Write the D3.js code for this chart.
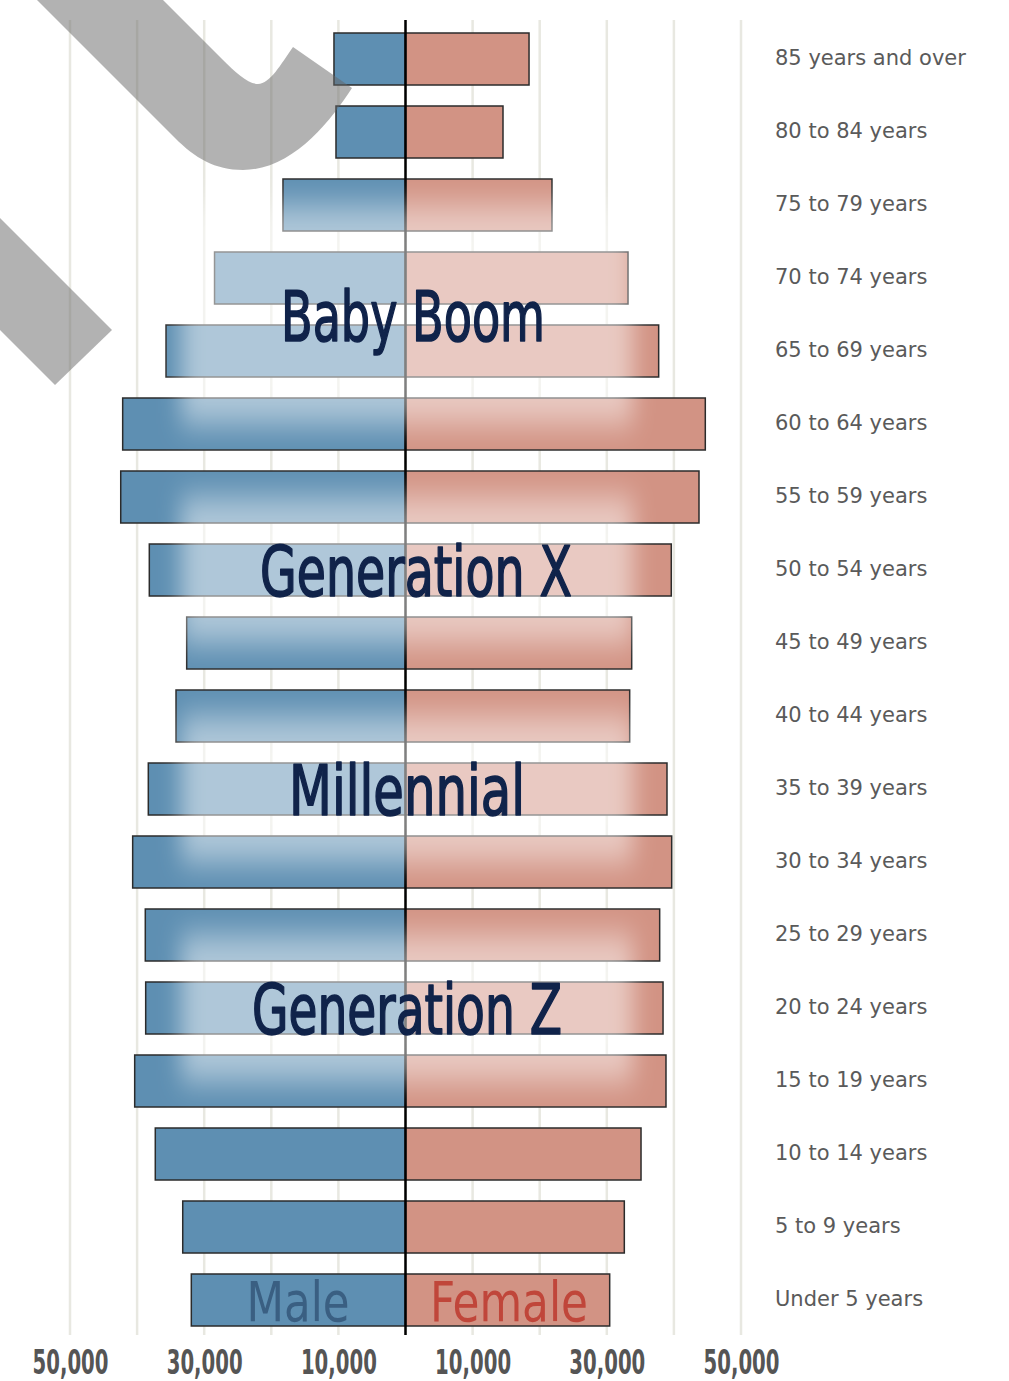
<!DOCTYPE html>
<html>
<head>
<meta charset="utf-8">
<script src="https://cdn.jsdelivr.net/npm/d3@7"></script>
<style>
  html, body { margin: 0; padding: 0; background: #ffffff; }
  svg { display: block; }
</style>
</head>
<body>
<svg id="chart" width="1009" height="1381"></svg>
<script>
const ageGroups = ["85 years and over","80 to 84 years","75 to 79 years","70 to 74 years","65 to 69 years","60 to 64 years","55 to 59 years","50 to 54 years","45 to 49 years","40 to 44 years","35 to 39 years","30 to 34 years","25 to 29 years","20 to 24 years","15 to 19 years","10 to 14 years","5 to 9 years","Under 5 years"];
const maleValues = [10660, 10360, 18260, 28460, 35690, 42150, 42440, 38180, 32610, 34200, 38330, 40660, 38780, 38720, 40360, 37290, 33200, 31920];
const femaleValues = [18410, 14530, 21830, 33160, 37730, 44680, 43740, 39610, 33710, 33410, 38970, 39670, 37880, 38380, 38820, 35100, 32610, 30430];
const generationNames = ["Baby Boom", "Generation X", "Millennial", "Generation Z"];
const generationFirstGroup = ["75 to 79 years", "55 to 59 years", "40 to 44 years", "25 to 29 years"];
const generationLastGroup = ["60 to 64 years", "45 to 49 years", "30 to 34 years", "15 to 19 years"];
const gridValues = [-50000,-40000,-30000,-20000,-10000,0,10000,20000,30000,40000,50000];
const tickValues = [-50000,-30000,-10000,10000,30000,50000];
const sexLabels = ["Male", "Female"];

const svg = d3.select("#chart");

const x = d3.scaleLinear().domain([-50000, 50000]).range([70, 741]);
const y = d3.scaleBand().domain(ageGroups).range([22.5, 1336.5])
  .paddingInner(21/73).paddingOuter(10.5/73);
const rowC = g => y(g) + y.bandwidth()/2;

const blue = "#5e8fb2", pink = "#d29384";

// defs: blur filter
const defs = svg.append("defs");
const f = defs.append("filter").attr("id","soft")
  .attr("x","-25%").attr("y","-60%").attr("width","150%").attr("height","220%");
f.append("feGaussianBlur").attr("stdDeviation", "11 16");

// gridlines
svg.append("g").selectAll("line").data(gridValues).join("line")
  .attr("x1", d => x(d)).attr("x2", d => x(d))
  .attr("y1", 20).attr("y2", 1335)
  .attr("stroke", "#e8e8e1").attr("stroke-width", 2.5);

// bars
const bars = svg.append("g");
bars.selectAll("rect.m").data(ageGroups).join("rect").attr("class","m")
  .attr("x", (d,i) => x(-maleValues[i]))
  .attr("y", d => y(d))
  .attr("width", (d,i) => x(0) - x(-maleValues[i]))
  .attr("height", y.bandwidth())
  .attr("fill", blue).attr("stroke", "#2b2b2b").attr("stroke-width", 1.5);
bars.selectAll("rect.f").data(ageGroups).join("rect").attr("class","f")
  .attr("x", x(0))
  .attr("y", d => y(d))
  .attr("width", (d,i) => x(femaleValues[i]) - x(0))
  .attr("height", y.bandwidth())
  .attr("fill", pink).attr("stroke", "#2b2b2b").attr("stroke-width", 1.5);

// center axis line
svg.append("line").attr("x1", x(0)).attr("x2", x(0)).attr("y1", 20).attr("y2", 1335)
  .attr("stroke", "#000").attr("stroke-width", 2.5);

// generation highlight overlays
const genCx = 407, genHalf = 226;
svg.append("g").selectAll("rect").data(generationNames).join("rect")
  .attr("x", genCx - genHalf).attr("width", genHalf*2)
  .attr("y", (d,i) => rowC(generationFirstGroup[i]))
  .attr("height", (d,i) => rowC(generationLastGroup[i]) - rowC(generationFirstGroup[i]))
  .attr("fill", "#fff").attr("fill-opacity", 0.5)
  .attr("filter", "url(#soft)");

// gray decoration (partial logo)
const deco = svg.append("g").attr("fill", "#666").attr("fill-opacity", 0.5);
deco.append("path").attr("d",
  "M37,0 L163,0 L222,59 C236,73 248,84 258,84 C270,84 281,64 293,47 L352,88 C330,122 292,170 243,170 C215,170 195,158 175,138 Z");
deco.append("path").attr("d", "M0,218 L112,330 L55,385 L0,330 Z");

// generation labels
const genFont = "'DejaVu Sans Condensed', 'Liberation Sans Narrow', sans-serif";
const genWidths = [264, 312, 236, 310];
const genX = [413, 416, 407, 407];
svg.append("g").selectAll("text").data(generationNames).join("text")
  .attr("x", (d,i) => genX[i])
  .attr("y", (d,i) => (rowC(generationFirstGroup[i]) + rowC(generationLastGroup[i]))/2 + 26)
  .attr("text-anchor", "middle")
  .attr("font-family", genFont).attr("font-weight", "normal")
  .attr("font-size", 70)
  .attr("textLength", (d,i) => genWidths[i]).attr("lengthAdjust", "spacingAndGlyphs")
  .attr("fill", "#10234a").attr("stroke", "#10234a").attr("stroke-width", 1.6)
  .attr("stroke-linejoin", "round")
  .text(d => d);

// Male / Female labels
const last = ageGroups[ageGroups.length-1];
svg.append("text").attr("x", 298).attr("y", rowC(last) + 21)
  .attr("text-anchor","middle").attr("font-family", genFont).attr("font-size", 56)
  .attr("textLength", 103).attr("lengthAdjust","spacingAndGlyphs")
  .attr("fill", "#3a5f82").text(sexLabels[0]);
svg.append("text").attr("x", 509).attr("y", rowC(last) + 21)
  .attr("text-anchor","middle").attr("font-family", genFont).attr("font-size", 56)
  .attr("textLength", 158).attr("lengthAdjust","spacingAndGlyphs")
  .attr("fill", "#c0463a").text(sexLabels[1]);

// right-side age labels
svg.append("g").selectAll("text").data(ageGroups).join("text")
  .attr("x", 775).attr("y", d => rowC(d) + 6)
  .attr("font-family", "'DejaVu Sans', Verdana, sans-serif")
  .attr("font-size", 21).attr("fill", "#5a5a5a")
  .text(d => d);

// bottom axis tick labels
const axis = d3.axisBottom(x).tickValues(tickValues).tickSize(0)
  .tickFormat(d => d3.format(",")(Math.abs(d)));
const ag = svg.append("g").attr("transform", "translate(0,1345)").call(axis);
ag.select(".domain").remove();
ag.selectAll("text")
  .attr("dy", 0).attr("y", 29)
  .attr("font-family", genFont).attr("font-weight", "bold")
  .attr("font-size", 34).attr("fill", "#555")
  .attr("textLength", 76).attr("lengthAdjust", "spacingAndGlyphs");
</script>
</body>
</html>
